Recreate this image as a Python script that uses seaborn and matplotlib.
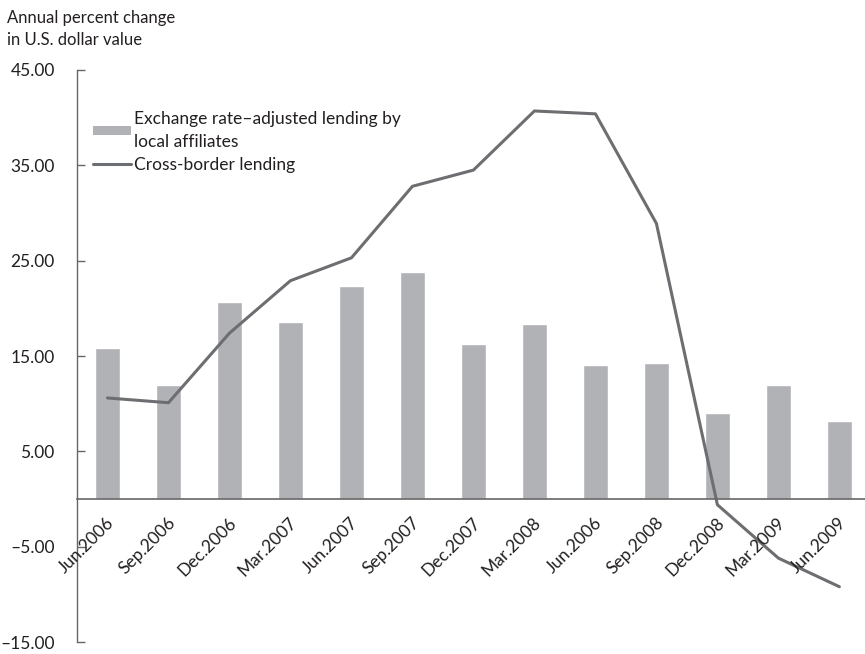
import numpy as np
import pandas as pd
import matplotlib
matplotlib.use("Agg")
import matplotlib.pyplot as plt
import matplotlib.transforms as mtransforms
import seaborn as sns
from matplotlib.patches import Patch
from matplotlib.lines import Line2D

# Quarter labels as printed on the category axis
quarters = ["Jun.2006", "Sep.2006", "Dec.2006", "Mar.2007", "Jun.2007", "Sep.2007",
            "Dec.2007", "Mar.2008", "Jun.2006", "Sep.2008", "Dec.2008", "Mar.2009",
            "Jun.2009"]

# Annual percent change in U.S. dollar value
local_affiliates = [15.8, 12.0, 20.7, 18.6, 22.3, 23.8, 16.3, 18.4, 14.1, 14.3, 9.0, 12.0, 8.2]
cross_border = [10.6, 10.1, 17.4, 22.9, 25.3, 32.8, 34.5, 40.7, 40.4, 28.9, -0.6, -6.2, -9.2]

y_ticks = [-15, -5, 5, 15, 25, 35, 45]

bar_color = "#b1b2b6"
line_color = "#6d6e71"
axis_color = "#666666"
text_color = "#231f20"

sns.set_theme(style="white")
plt.rcParams["font.family"] = ["Lato", "DejaVu Sans"]
plt.rcParams["text.color"] = text_color
plt.rcParams["ytick.color"] = axis_color
plt.rcParams["ytick.labelcolor"] = text_color

df = pd.DataFrame({
    "pos": np.arange(len(quarters)),
    "local": local_affiliates,
    "cross": cross_border,
})

fig = plt.figure(figsize=(8.65, 6.54), dpi=100)
ax = fig.add_axes([0.089, 0.0183, 0.911, 0.8747])

sns.barplot(data=df, x="pos", y="local", color=bar_color, width=0.41,
            saturation=1, ax=ax, zorder=2)
sns.lineplot(data=df, x="pos", y="cross", color=line_color, linewidth=2.2,
             ax=ax, zorder=3)

ax.set_xlim(-0.5, 12.42)
ax.set_ylim(-15, 45)
ax.set_yticks(y_ticks)
ax.set_yticklabels([f"{v:.2f}".replace("-", "\u2013") for v in y_ticks], fontsize=12.5)
ax.set_xticks([])
ax.set_xlabel("")
ax.set_ylabel("")

for side in ("top", "right"):
    ax.spines[side].set_visible(False)
ax.spines["left"].set_color(axis_color)
ax.spines["left"].set_linewidth(1.0)
ax.spines["bottom"].set_position(("data", 0))
ax.spines["bottom"].set_color(axis_color)
ax.spines["bottom"].set_linewidth(1.2)
ax.spines["bottom"].set_zorder(4)

ax.tick_params(axis="y", direction="in", length=6, width=1.0, pad=16, left=True)

# Rotated quarter labels hanging just under the zero line
label_offset = mtransforms.ScaledTranslation(-1 / 72, -11 / 72, fig.dpi_scale_trans)
for i, q in enumerate(quarters):
    ax.text(i, 0, q, rotation=45, ha="right", va="top", rotation_mode="anchor",
            fontsize=12.5, transform=ax.transData + label_offset, clip_on=False,
            zorder=5)

fig.text(0.008, 0.985, "Annual percent change\nin U.S. dollar value",
         ha="left", va="top", fontsize=12, linespacing=1.45)

handles = [Patch(facecolor=bar_color, edgecolor="none"),
           Line2D([0], [0], color=line_color, linewidth=2.2)]
labels = ["Exchange rate\u2013adjusted lending by\nlocal affiliates", "Cross-border lending"]
leg = ax.legend(handles, labels, loc="upper left", bbox_to_anchor=(0.1075, 0.830),
                bbox_transform=fig.transFigure, frameon=False, fontsize=12.5,
                handlelength=2.2, handleheight=0.4, handletextpad=0.17,
                labelspacing=0.4, borderaxespad=0, borderpad=0)
for t in leg.get_texts():
    t.set_linespacing(1.5)

fig.savefig("out.png", dpi=100)
